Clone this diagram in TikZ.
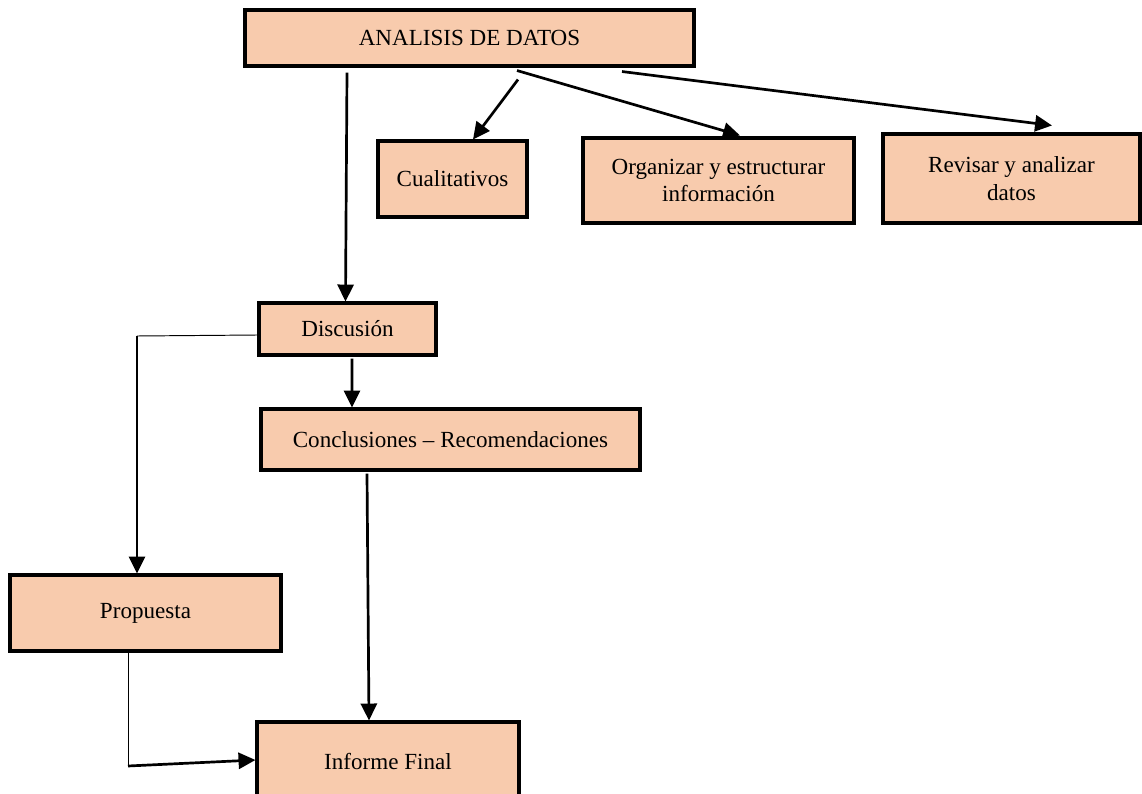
\documentclass[tikz,border=0pt]{standalone}
\usepackage{fontspec}
\setmainfont{Liberation Serif}
\usetikzlibrary{arrows.meta,calc}
\definecolor{boxfill}{HTML}{F8CBAD}
\newcommand\pxu{0.52pt}
\begin{document}
\begin{tikzpicture}[x=0.52pt,y=-0.52pt,
  box/.style={draw=black,fill=boxfill,line width=1.6pt,inner sep=0pt,
    align=center,font=\fontsize{12}{14.4}\selectfont},
  size/.style 2 args={minimum width={#1*\pxu},minimum height={#2*\pxu}},
  arr/.style={line width=1.4pt,-{Triangle[length=8.8pt,width=8.4pt]}},
  thin line/.style={line width=0.5pt}]
\useasboundingbox (0,0) rectangle (1142,794);

% boxes
\node[box,size={449}{56}] (ana) at (469.5,38) {ANALISIS DE DATOS};
\node[box,size={149}{76}] (cual) at (452.5,179) {Cualitativos};
\node[box,size={271}{85}] (org) at (718.5,180.5) {Organizar y estructurar\\informaci\'on};
\node[box,size={257}{89}] (rev) at (1011.5,178.5) {Revisar y analizar\\datos};
\node[box,size={177}{52}] (disc) at (347.5,329) {Discusi\'on};
\node[box,size={379}{61}] (conc) at (450.5,439.5) {Conclusiones -- Recomendaciones};
\node[box,size={271}{76}] (prop) at (145.5,613) {Propuesta};
\node[box,size={262}{78}] (inf) at (388,761) {Informe Final};

% corner points of the elbow connectors
\coordinate (k1) at (137,336);
\coordinate (k2) at (128,766);

% connectors from the top box
\draw[arr] ($(ana.south)+(-122.5,5)$) -- ($(disc.north)+(-2,0)$);
\draw[arr] ($(ana.south)+(48.5,12)$) -- ($(cual.north)+(20.5,0)$);
\draw[arr] ($(ana.south)+(47.5,3)$) -- ($(org.north)+(21.5,-1)$);
\draw[arr] ($(ana.south)+(152.5,4)$) -- ($(rev.north)+(40.5,-7)$);

% Discusion to Conclusiones and Propuesta
\draw[arr] ($(disc.south)+(4.5,2)$) -- ($(conc.north)+(-98.5,0)$);
\draw[thin line] ($(disc.west)+(0,6)$) -- (k1);
\draw[arr] (k1) -- ($(prop.north)+(-8.5,0)$);

% into Informe Final
\draw[arr] ($(conc.south)+(-83.5,2)$) -- ($(inf.north)+(-19,0)$);
\draw[thin line] ($(prop.south)+(-17.5,0)$) -- (k2);
\draw[arr] (k2) -- ($(inf.west)+(0,-1)$);
\end{tikzpicture}
\end{document}
